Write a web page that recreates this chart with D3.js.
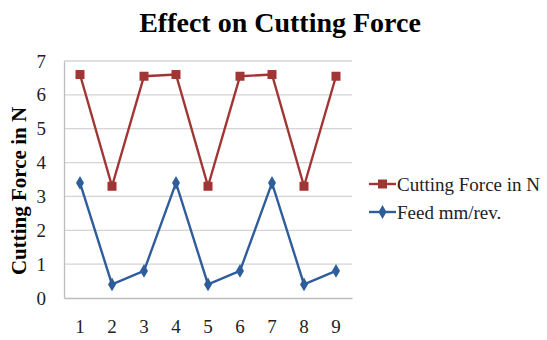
<!DOCTYPE html>
<html>
<head>
<meta charset="utf-8">
<script src="https://cdn.jsdelivr.net/npm/d3@7"></script>
<style>
  body { margin: 0; background: #fff; }
  text { font-family: "Liberation Serif", "Times New Roman", serif; }
</style>
</head>
<body>
<div id="chart"></div>
<script>
// data
var categories = ["1", "2", "3", "4", "5", "6", "7", "8", "9"]
var cuttingForce = [6.6, 3.3, 6.55, 6.6, 3.3, 6.55, 6.6, 3.3, 6.55]
var feed = [3.4, 0.4, 0.8, 3.4, 0.4, 0.8, 3.4, 0.4, 0.8]
var yTicks = [0, 1, 2, 3, 4, 5, 6, 7]
var seriesNames = ["Cutting Force in N", "Feed mm/rev."]

var width = 547, height = 340
var redColor = "#A13533", blueColor = "#2F5D9C"

var svg = d3.select("#chart").append("svg")
    .attr("width", width)
    .attr("height", height)

var xScale = d3.scaleBand().domain(categories).range([64, 352])
var yScale = d3.scaleLinear().domain([0, 7]).range([298, 61])

// gridlines
svg.append("g")
    .selectAll("line")
    .data(yTicks.slice(1))
    .enter().append("line")
    .attr("x1", 64).attr("x2", 352)
    .attr("y1", d => yScale(d)).attr("y2", d => yScale(d))
    .style("stroke", "#d4d4d4")
    .style("stroke-width", 1.3)

// axes
var yAxis = svg.append("g")
    .attr("transform", "translate(64,0)")
    .call(d3.axisLeft(yScale).tickValues(yTicks).tickFormat(d3.format("d")).tickSize(0).tickPadding(18))
yAxis.select(".domain").style("stroke", "#bdbdbd").style("stroke-width", 1.3)
yAxis.selectAll("text").style("font-size", "19px").style("fill", "#222")

var xAxis = svg.append("g")
    .attr("transform", "translate(0,298)")
    .call(d3.axisBottom(xScale).tickSize(0).tickPadding(22))
xAxis.select(".domain").style("stroke", "#bdbdbd").style("stroke-width", 1.3)
xAxis.selectAll("text").style("font-size", "19px").style("fill", "#222")

var cx = d => xScale(d) + xScale.bandwidth() / 2
var line = d3.line().x(d => cx(d.c)).y(d => yScale(d.v))

var redData = categories.map((c, i) => ({ c: c, v: cuttingForce[i] }))
var blueData = categories.map((c, i) => ({ c: c, v: feed[i] }))

svg.append("path").datum(redData)
    .attr("d", line).attr("fill", "none")
    .style("stroke", redColor).style("stroke-width", 2.4)
svg.append("path").datum(blueData)
    .attr("d", line).attr("fill", "none")
    .style("stroke", blueColor).style("stroke-width", 2.4)

svg.selectAll(".sq").data(redData).enter().append("rect")
    .attr("x", d => cx(d.c) - 4.5).attr("y", d => yScale(d.v) - 4.5)
    .attr("width", 9).attr("height", 9)
    .style("fill", redColor)

var diamond = d3.symbol().type(d3.symbolDiamond).size(55)
svg.selectAll(".dm").data(blueData).enter().append("path")
    .attr("d", diamond)
    .attr("transform", d => "translate(" + cx(d.c) + "," + yScale(d.v) + ")")
    .style("fill", blueColor)

// title
svg.append("text")
    .text("Effect on Cutting Force")
    .attr("x", 280).attr("y", 32)
    .attr("text-anchor", "middle")
    .style("font-size", "28px").style("font-weight", "bold")

// y label
svg.append("text")
    .text("Cutting Force in N")
    .attr("transform", "translate(26,191) rotate(-90)")
    .attr("text-anchor", "middle")
    .style("font-size", "21px").style("font-weight", "bold")

// legend
var legend = svg.append("g")
var colors = [redColor, blueColor]
seriesNames.forEach((name, i) => {
    var ly = 184 + i * 28
    legend.append("line")
        .attr("x1", 369).attr("x2", 396).attr("y1", ly).attr("y2", ly)
        .style("stroke", colors[i]).style("stroke-width", 2.4)
    if (i == 0)
        legend.append("rect").attr("x", 378).attr("y", ly - 4.5)
            .attr("width", 9).attr("height", 9).style("fill", colors[i])
    else
        legend.append("path").attr("d", diamond)
            .attr("transform", "translate(382.5," + ly + ")")
            .style("fill", colors[i])
    legend.append("text")
        .text(name)
        .attr("x", 397).attr("y", ly + 7)
        .style("font-size", "19px").style("fill", "#222")
})
</script>
</body>
</html>
